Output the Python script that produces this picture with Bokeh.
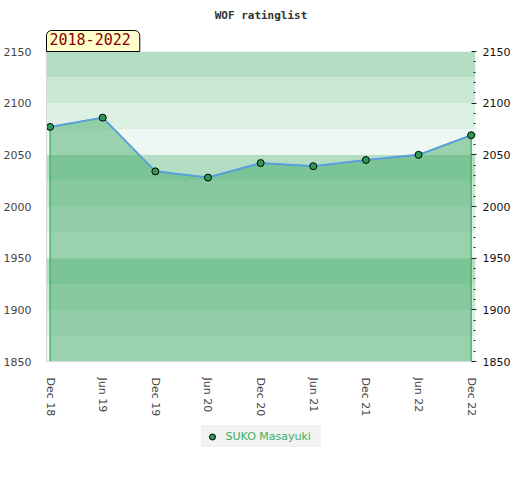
from bokeh.plotting import figure
from bokeh.layouts import column
from bokeh.models import (Range1d, LinearAxis, FixedTicker, Legend,
                          LegendItem, BoxAnnotation, Title)
from bokeh.embed import file_html
from bokeh.resources import INLINE

# ---- data ----
periods = ["Dec 18", "Jun 19", "Dec 19", "Jun 20", "Dec 20",
           "Jun 21", "Dec 21", "Jun 22", "Dec 22"]
ratings = [2077, 2086, 2034, 2028, 2042, 2039, 2045, 2050, 2069]
player = "SUKO Masayuki"
period_label = "2018-2022"
title_text = "WOF ratinglist"
y_ticks = [1850, 1900, 1950, 2000, 2050, 2100, 2150]
band_step = 25
band_colors = ["#b3dec3", "#c9e7d3", "#ddf0e4", "#eef7f1"]

idx = list(range(len(periods)))
y_lo, y_hi = y_ticks[0], y_ticks[-1]
x_lo, x_hi = -0.068, len(periods) - 1 + 0.082

marker_style = dict(size=7, fill_color="#2f9a55", line_color="black", line_width=1)
BL, BR = 38, 36   # side borders shared by both stacked figures

p = figure(frame_width=429, frame_height=310,
           x_range=Range1d(x_lo, x_hi), y_range=Range1d(y_lo, y_hi),
           output_backend="svg", toolbar_location=None,
           min_border_left=BL, min_border_right=BR,
           min_border_top=42, min_border_bottom=64,
           background_fill_color="white", border_fill_color="white")
p.outline_line_color = None
p.grid.visible = False

# main title (outermost)
p.title.text = title_text
p.title.align = "center"
p.title.text_font = "DejaVu Sans Mono"
p.title.text_font_style = "bold"
p.title.text_font_size = "11px"
p.title.text_color = "#333333"
p.title.standoff = 13

# period box (closest to the frame)
p.add_layout(Title(text=period_label, align="left", text_font="DejaVu Sans Mono",
                   text_font_style="normal", text_font_size="15px",
                   text_color="#8b0000", background_fill_color="#ffffcc",
                   border_line_color="black", border_line_width=1,
                   padding=(3, 9, 2, 7), border_radius=(5, 5, 0, 0),
                   standoff=0, offset=0), "above")

# background bands
for b in range(y_lo, y_hi, band_step):
    k = ((y_hi - (b + band_step)) // band_step) % len(band_colors)
    p.add_layout(BoxAnnotation(bottom=b, top=b + band_step,
                               fill_color=band_colors[k], fill_alpha=1.0,
                               line_color=None, level="underlay"))

# area
p.patch(idx + [idx[-1], idx[0]], ratings + [y_lo, y_lo],
        fill_color="#3ca761", fill_alpha=0.47,
        line_color="#3aaa5c", line_width=1.2)
p.line(idx, ratings, line_color="#5aa0dc", line_width=2)
p.scatter(idx, ratings, **marker_style)

# x axis
xa = p.xaxis[0]
xa.axis_label = None
xa.ticker = FixedTicker(ticks=idx)
xa.major_label_overrides = {i: s for i, s in zip(idx, periods)}
xa.major_label_orientation = "vertical"
xa.major_label_text_font = "DejaVu Sans"
xa.major_label_text_font_size = "11px"
xa.major_label_text_color = "#444444"
xa.major_tick_line_color = None
xa.minor_tick_line_color = None
xa.axis_line_color = "#d6d6d6"
xa.major_label_standoff = 10

# left y axis
ya = p.yaxis[0]
ya.axis_label = None
ya.ticker = FixedTicker(ticks=y_ticks)
ya.major_label_text_font = "DejaVu Sans"
ya.major_label_text_font_size = "11px"
ya.major_label_text_color = "#444444"
ya.major_tick_line_color = None
ya.minor_tick_line_color = None
ya.axis_line_color = "#d6d6d6"
ya.major_label_standoff = 9

# right y axis
ra = LinearAxis(axis_label=None,
                ticker=FixedTicker(ticks=y_ticks,
                                   minor_ticks=list(range(y_lo, y_hi + 1, 10))))
ra.major_label_text_font = "DejaVu Sans"
ra.major_label_text_font_size = "11px"
ra.major_label_text_color = "#111111"
ra.axis_line_color = None
ra.major_tick_in = 4
ra.major_tick_out = 1
ra.minor_tick_in = 2
ra.minor_tick_out = 0
ra.major_tick_line_color = "#222222"
ra.minor_tick_line_color = "#222222"
ra.major_label_standoff = 6
p.add_layout(ra, "right")

# legend strip (separate small figure; its data lie outside its ranges)
lf = figure(frame_width=429, frame_height=40,
            x_range=Range1d(0, 1), y_range=Range1d(0, 1),
            x_axis_location=None, y_axis_location=None,
            output_backend="svg", toolbar_location=None,
            min_border_left=BL, min_border_right=BR, min_border_top=0,
            min_border_bottom=0, border_fill_color="white")
lf.outline_line_color = None
lf.grid.visible = False
proxy = lf.scatter(idx, ratings, **marker_style)
legend = Legend(items=[LegendItem(label=player, renderers=[proxy])],
                location="top_center", orientation="horizontal",
                background_fill_color="#f2f2f2", background_fill_alpha=1.0,
                border_line_color=None, label_text_font="DejaVu Sans",
                label_text_font_size="11px", label_text_color="#3cb064",
                padding=0, glyph_width=22, glyph_height=15, label_height=22,
                label_width=95, label_standoff=3, margin=0, spacing=0)
lf.add_layout(legend, "center")

layout = column(p, lf, spacing=0)
open("out.html", "w").write(file_html(layout, INLINE))
